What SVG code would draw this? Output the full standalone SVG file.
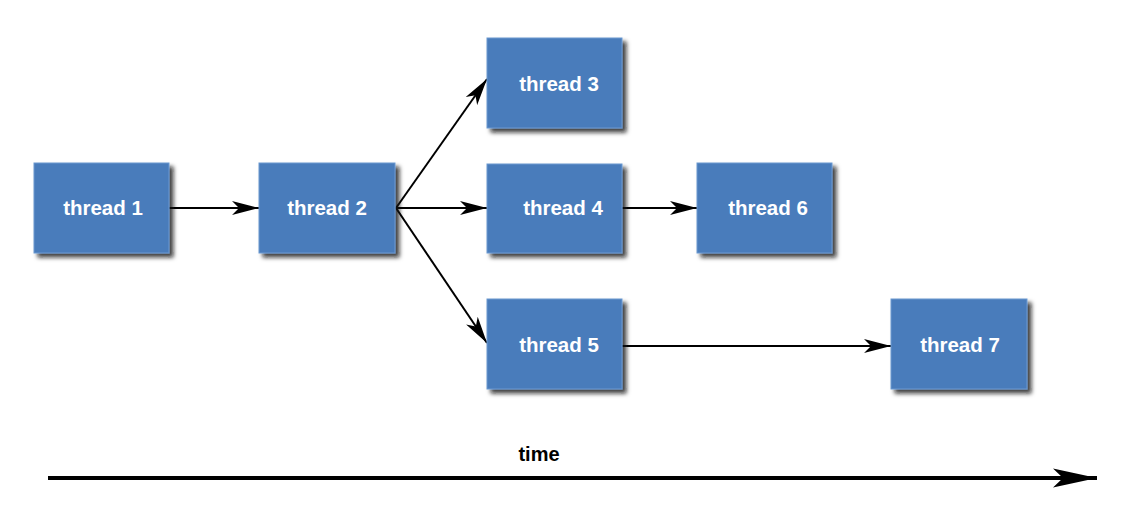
<svg xmlns="http://www.w3.org/2000/svg" width="1132" height="507" viewBox="0 0 1132 507">
<defs>
<style>
.box{fill:#4a7cbb;stroke:#6a98d0;stroke-width:1;filter:url(#sh)}
.lbl{fill:#ffffff;font-family:"Liberation Sans",Arial,sans-serif;font-weight:bold;font-size:20.5px;text-anchor:middle}
.edge{stroke:#000;stroke-width:2;fill:none;marker-end:url(#arr)}
</style>
<filter id="sh" x="-10%" y="-10%" width="130%" height="130%">
<feDropShadow dx="4" dy="4" stdDeviation="2" flood-color="#111" flood-opacity="0.8"/>
</filter>
<marker id="arr" markerUnits="userSpaceOnUse" markerWidth="30" markerHeight="16" viewBox="0 -8 30 16" refX="27" refY="0" orient="auto">
<path d="M0,-7 L27,0 L0,7 L7,0 Z" fill="#000"/>
</marker>
<marker id="tarr" markerUnits="userSpaceOnUse" markerWidth="46" markerHeight="22" viewBox="0 -11 46 22" refX="44" refY="0" orient="auto">
<path d="M0,-9.5 L44,0 L0,9.5 L10,0 Z" fill="#000"/>
</marker>
</defs>
<rect width="1132" height="507" fill="#ffffff"/>
<g id="connectors">
<line class="edge" x1="169" y1="208" x2="259" y2="208"/>
<line class="edge" x1="396" y1="208" x2="487" y2="79"/>
<line class="edge" x1="396" y1="208" x2="487" y2="208"/>
<line class="edge" x1="396" y1="208" x2="487" y2="343"/>
<line class="edge" x1="622" y1="208" x2="697" y2="208"/>
<line class="edge" x1="622" y1="346" x2="891" y2="346"/>
</g>
<g id="thread1"><rect class="box" x="34" y="163" width="135" height="90"/><text class="lbl" x="103" y="215">thread 1</text></g>
<g id="thread2"><rect class="box" x="259" y="163" width="136" height="90"/><text class="lbl" x="327" y="215">thread 2</text></g>
<g id="thread3"><rect class="box" x="487" y="38" width="135" height="90"/><text class="lbl" x="559" y="91">thread 3</text></g>
<g id="thread4"><rect class="box" x="487" y="164" width="135" height="89"/><text class="lbl" x="563" y="215">thread 4</text></g>
<g id="thread5"><rect class="box" x="487" y="299" width="135" height="90"/><text class="lbl" x="559" y="352">thread 5</text></g>
<g id="thread6"><rect class="box" x="697" y="163" width="135" height="90"/><text class="lbl" x="768" y="215">thread 6</text></g>
<g id="thread7"><rect class="box" x="891" y="299" width="136" height="90"/><text class="lbl" x="960" y="352">thread 7</text></g>
<g id="timeline">
<line x1="48" y1="478" x2="1097" y2="478" stroke="#000" stroke-width="4" marker-end="url(#tarr)"/>
<text x="539" y="461" font-family="'Liberation Sans',Arial,sans-serif" font-weight="bold" font-size="20" text-anchor="middle" fill="#000">time</text>
</g>
</svg>
